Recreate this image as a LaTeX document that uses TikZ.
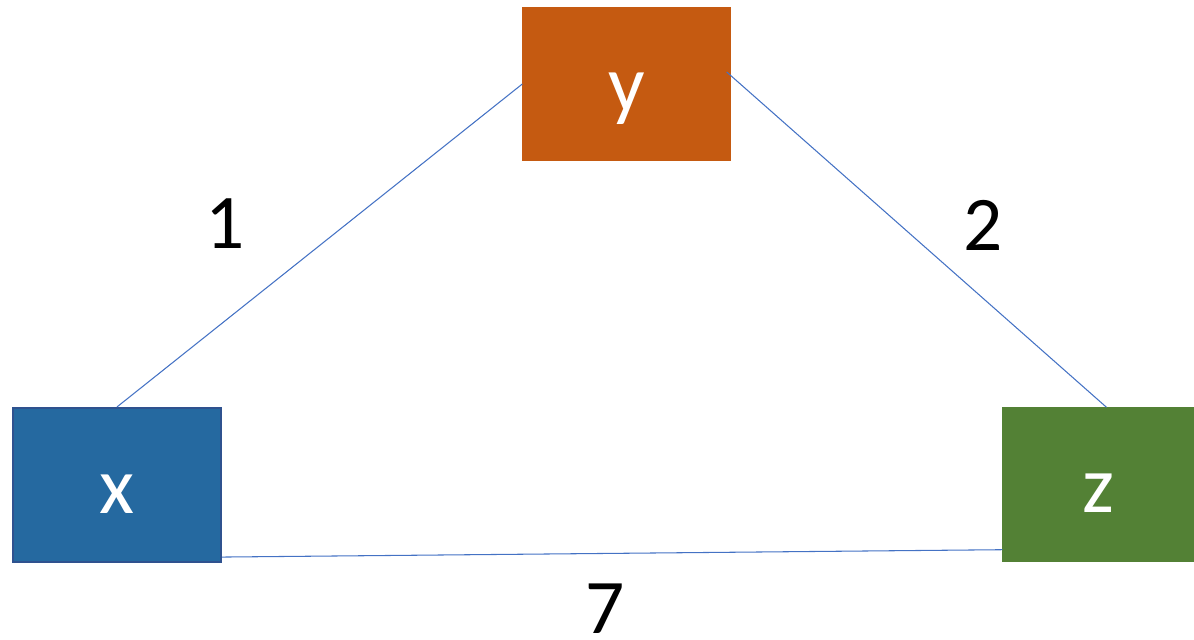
\documentclass[tikz,border=0pt]{standalone}
\usepackage{fontspec}
\setmainfont{Carlito}
\usepackage{tikz}
\usetikzlibrary{positioning, calc}
\usepackage{xcolor}
\definecolor{vertx}{HTML}{2569A0}
\definecolor{vertxedge}{HTML}{2F528F}
\definecolor{verty}{HTML}{C55A11}
\definecolor{vertz}{HTML}{538135}
\definecolor{edgeblue}{HTML}{4472C4}
\tikzset{
  vbox/.style={rectangle, draw=#1, fill=#1, line width=0.8pt,
               inner sep=0pt, text=white, text height=1.12cm, text depth=0pt,
               font=\fontsize{46}{52}\selectfont},
  vbox/.default=vertx,
  wlbl/.style={font=\fontsize{44}{50}\selectfont, text=black},
  edge/.style={draw=edgeblue, line width=0.6pt},
}

\begin{document}
\begin{tikzpicture}
  \useasboundingbox (0,0) rectangle (23.88,12.78);

  % Vertices
  \node[vbox=vertx, draw=vertxedge, line width=1.2pt, minimum width=4.16cm, minimum height=3.08cm]
    (x) at (2.34,3.08) {x};
  \node[vbox=verty, minimum width=4.14cm, minimum height=3.04cm]
    (y) at (12.53,11.10) {y};
  \node[vbox=vertz, minimum width=3.82cm, minimum height=3.06cm]
    (z) at (21.97,3.09) {z};

  % Edges
  \draw[edge] (x.north) -- (y.west);
  \draw[edge] ([xshift=-0.08cm, yshift=0.24cm]y.east) -- ([xshift=0.16cm]z.north);
  \draw[edge] ([yshift=0.12cm]x.south east) -- ([yshift=0.24cm]z.south west);

  % Weights
  \node[wlbl] (w1) at (4.50,8.30) {1};
  \node[wlbl] (w2) at (19.66,8.28) {2};
  \node[wlbl] (w7) at (12.10,0.60) {7};
\end{tikzpicture}
\end{document}
